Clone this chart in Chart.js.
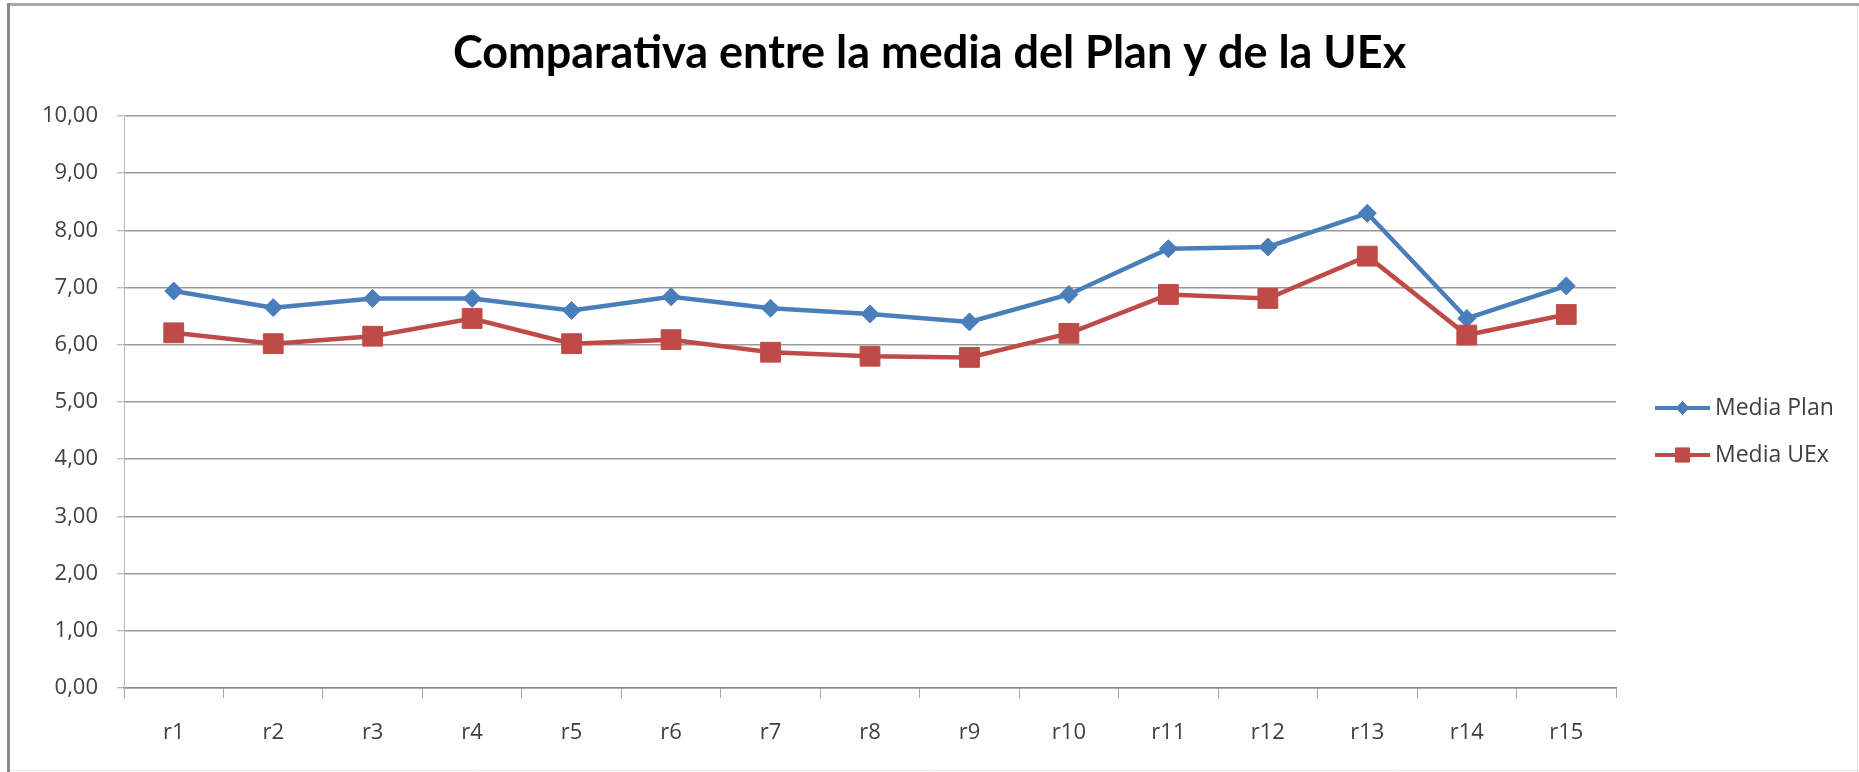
<!DOCTYPE html>
<html lang="es">
<head>
  <meta charset="UTF-8">
  <title>Comparativa entre la media del Plan y de la UEx</title>
  <script src="https://cdn.jsdelivr.net/npm/chart.js"></script>
  <style>
    body {
      margin: 0;
      background: #ffffff;
      overflow: hidden;
    }
    #chart {
      display: block;
    }
  </style>
</head>
<body>
  <canvas id="chart" width="1859" height="772"></canvas>

  <script>
    const categories = ['r1', 'r2', 'r3', 'r4', 'r5', 'r6', 'r7', 'r8', 'r9', 'r10', 'r11', 'r12', 'r13', 'r14', 'r15'];
    const mediaPlan = [6.94, 6.65, 6.81, 6.81, 6.60, 6.84, 6.64, 6.54, 6.40, 6.88, 7.68, 7.71, 8.30, 6.46, 7.03];
    const mediaUEx = [6.21, 6.02, 6.15, 6.46, 6.02, 6.09, 5.87, 5.80, 5.78, 6.20, 6.88, 6.81, 7.55, 6.17, 6.53];
    const yTickLabels = ['0,00', '1,00', '2,00', '3,00', '4,00', '5,00', '6,00', '7,00', '8,00', '9,00', '10,00'];

    const textColor = '#404040';
    Chart.defaults.font.family = "'Open Sans', sans-serif";
    Chart.defaults.color = textColor;

    // outer frame of the picture
    const framePlugin = {
      id: 'frame',
      beforeDraw(chart) {
        const ctx = chart.ctx;
        const w = chart.width, h = chart.height;
        ctx.save();
        ctx.fillStyle = '#ffffff';
        ctx.fillRect(0, 0, w, h);
        ctx.lineWidth = 3;
        ctx.strokeStyle = '#a8a8a8';
        ctx.beginPath();
        ctx.moveTo(7, 4.5);
        ctx.lineTo(w, 4.5);
        ctx.stroke();
        ctx.strokeStyle = '#8a8a8a';
        ctx.beginPath();
        ctx.moveTo(8.5, 3);
        ctx.lineTo(8.5, h);
        ctx.stroke();
        ctx.lineWidth = 1;
        ctx.strokeStyle = '#dcdcdc';
        ctx.beginPath();
        ctx.moveTo(w - 1.5, 6);
        ctx.lineTo(w - 1.5, h);
        ctx.stroke();
        ctx.strokeStyle = '#e8e8e8';
        ctx.beginPath();
        ctx.moveTo(10, h - 1.5);
        ctx.lineTo(w, h - 1.5);
        ctx.stroke();
        ctx.restore();
      }
    };

    // excel-like legend: line + marker + text
    const legendPlugin = {
      id: 'lineLegend',
      afterDraw(chart) {
        const ctx = chart.ctx;
        const area = chart.chartArea;
        const x0 = area.right + 39;
        const x1 = x0 + 55;
        let y = area.top + 292;
        const markerRadius = [6.5, 10];
        ctx.save();
        chart.data.datasets.forEach((ds, i) => {
          ctx.strokeStyle = ds.borderColor;
          ctx.lineWidth = 4;
          ctx.beginPath();
          ctx.moveTo(x0, y);
          ctx.lineTo(x1, y);
          ctx.stroke();
          ctx.fillStyle = ds.pointBackgroundColor;
          ctx.strokeStyle = ds.pointBorderColor;
          ctx.lineWidth = 1;
          Chart.helpers.drawPoint(ctx, {
            pointStyle: ds.pointStyle,
            radius: markerRadius[i],
            borderWidth: 1,
            rotation: 0
          }, (x0 + x1) / 2, y);
          ctx.fillStyle = textColor;
          ctx.font = "23px 'Open Sans', sans-serif";
          ctx.textAlign = 'left';
          ctx.textBaseline = 'middle';
          ctx.fillText(ds.label, x1 + 5, y);
          y += 47;
        });
        ctx.restore();
      }
    };

    new Chart(document.getElementById('chart'), {
      type: 'line',
      data: {
        labels: categories,
        datasets: [
          {
            label: 'Media Plan',
            data: mediaPlan,
            borderColor: '#4A7EBB',
            backgroundColor: '#4A7EBB',
            pointBackgroundColor: '#4A7EBB',
            pointBorderColor: '#4A7EBB',
            borderWidth: 4.5,
            pointStyle: 'rectRot',
            pointRadius: 9,
            pointBorderWidth: 1,
            tension: 0,
            order: 1
          },
          {
            label: 'Media UEx',
            data: mediaUEx,
            borderColor: '#BE4B48',
            backgroundColor: '#BE4B48',
            pointBackgroundColor: '#BE4B48',
            pointBorderColor: '#BE4B48',
            borderWidth: 4.5,
            pointStyle: 'rect',
            pointRadius: 14,
            pointBorderWidth: 1,
            tension: 0,
            order: 0
          }
        ]
      },
      options: {
        responsive: false,
        animation: false,
        devicePixelRatio: 1,
        layout: {
          padding: { left: 0, right: 0, top: 0, bottom: 0 }
        },
        plugins: {
          legend: { display: false },
          tooltip: { enabled: false },
          title: {
            display: true,
            text: 'Comparativa entre la media del Plan y de la UEx',
            color: '#000000',
            font: { family: "'Lato', sans-serif", size: 45, weight: 'bold' },
            padding: { top: 26, bottom: 36 }
          }
        },
        scales: {
          x: {
            offset: true,
            grid: {
              offset: true,
              drawOnChartArea: false,
              drawTicks: true,
              tickLength: 10,
              tickColor: '#a6a6a6',
              tickWidth: 1
            },
            border: { display: true, color: '#8c8c8c', width: 1.5 },
            ticks: {
              font: { size: 22 },
              color: textColor,
              padding: 22,
              maxRotation: 0,
              autoSkip: false
            },
            afterFit(scale) { scale.height = 84; }
          },
          y: {
            min: 0,
            max: 10,
            grid: {
              color: '#9a9a9a',
              lineWidth: 1.5,
              drawTicks: true,
              tickLength: 7,
              tickColor: '#a6a6a6',
              tickWidth: 1
            },
            border: { display: true, color: '#b8b8b8', width: 1 },
            ticks: {
              stepSize: 1,
              font: { size: 22 },
              color: textColor,
              padding: 19,
              callback: (value, index) => yTickLabels[index]
            },
            afterFit(scale) { scale.width = 124; }
          },
          legendSpace: {
            position: 'right',
            min: 0,
            max: 1,
            grid: { display: false },
            border: { display: false },
            ticks: { display: false },
            afterFit(scale) { scale.width = 243; }
          }
        }
      },
      plugins: [framePlugin, legendPlugin]
    });
  </script>
</body>
</html>
